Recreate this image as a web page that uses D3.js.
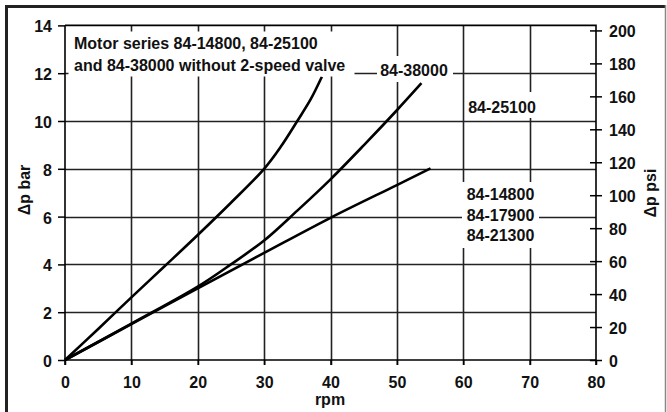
<!DOCTYPE html>
<html>
<head>
<meta charset="utf-8">
<script src="https://cdn.jsdelivr.net/npm/d3@7"></script>
<style>
  html, body { margin: 0; padding: 0; background: #fff; }
  svg { display: block; }
  text { font-family: "Liberation Sans", Arial, Helvetica, sans-serif; font-weight: bold; fill: #111; }
</style>
</head>
<body>
<svg id="chart" width="667" height="412"></svg>
<script>
// ---- data ----
const rpmTicks = [0, 10, 20, 30, 40, 50, 60, 70, 80];
const barTicks = [0, 2, 4, 6, 8, 10, 12, 14];
const psiTicks = [0, 20, 40, 60, 80, 100, 120, 140, 160, 180, 200];
const gridRpm = [10, 20, 30, 40, 50, 60, 70];
const gridBar = [2, 4, 6, 8, 10, 12];

// steepest curve
const steepRpm = [0, 5, 10, 15, 20, 25, 30, 32.5, 35, 37, 38.7];
const steepBar = [0, 1.3, 2.62, 3.92, 5.23, 6.58, 8.0, 8.92, 10.0, 10.9, 11.85];
// middle curve
const midRpm = [0, 10, 20, 25, 30, 35, 40, 45, 50, 53.7];
const midBar = [0, 1.52, 3.07, 4.0, 5.0, 6.25, 7.56, 8.98, 10.45, 11.58];
// lower curve
const lowRpm = [0, 10, 20, 30, 40, 50, 55.07];
const lowBar = [0, 1.5, 3.0, 4.48, 5.95, 7.32, 8.02];

const titleLines = ["Motor series 84-14800, 84-25100", "and 84-38000 without 2-speed valve"];
const label38000 = "84-38000";
const label25100 = "84-25100";
const labelBlock = ["84-14800", "84-17900", "84-21300"];
const BAR_TO_PSI = 14.5038;

// ---- layout ----
const svg = d3.select("#chart");
const x = d3.scaleLinear().domain([0, 80]).range([65, 596]);
const y = d3.scaleLinear().domain([0, 14]).range([360, 25.4]);
const yPsi = d3.scaleLinear().domain([0, 14 * BAR_TO_PSI]).range([360, 25.4]);

// outer frame
svg.append("line").attr("x1", 5).attr("x2", 666).attr("y1", 6.5).attr("y2", 6.5)
  .attr("stroke", "#222").attr("stroke-width", 3);
svg.append("line").attr("x1", 6.5).attr("x2", 6.5).attr("y1", 5).attr("y2", 412)
  .attr("stroke", "#222").attr("stroke-width", 3);
svg.append("line").attr("x1", 665.5).attr("x2", 665.5).attr("y1", 5).attr("y2", 412)
  .attr("stroke", "#888").attr("stroke-width", 1.5);

// grid
const gridG = svg.append("g");
gridG.selectAll("line.v").data(gridRpm).join("line").attr("class", "v")
  .attr("x1", d => Math.round(x(d)) + 0.5).attr("x2", d => Math.round(x(d)) + 0.5)
  .attr("y1", y(14)).attr("y2", y(0) + 5)
  .attr("stroke", "#222").attr("stroke-width", 1.6);
gridG.selectAll("line.h").data(gridBar).join("line").attr("class", "h")
  .attr("x1", x(0)).attr("x2", x(80))
  .attr("y1", d => Math.round(y(d)) + 0.5).attr("y2", d => Math.round(y(d)) + 0.5)
  .attr("stroke", "#222").attr("stroke-width", 1.6);

// curves
const lineGen = d3.line().x(d => x(d[0])).y(d => y(d[1])).curve(d3.curveCatmullRom.alpha(0.5));
const curves = [
  d3.zip(steepRpm, steepBar),
  d3.zip(midRpm, midBar),
  d3.zip(lowRpm, lowBar)
];
const curveG = svg.append("g");
curves.forEach(c => {
  curveG.append("path")
    .attr("d", lineGen(c)).attr("fill", "none").attr("stroke", "#000")
    .attr("stroke-width", 2.6).attr("stroke-linejoin", "round");
});

// white label boxes
const boxes = [
  [68.5, 31.5, 286, 45],
  [377, 56, 76, 26],
  [465, 92, 76, 26],
  [462, 182, 77, 66]
];
boxes.forEach(b => {
  svg.append("rect").attr("x", b[0]).attr("y", b[1]).attr("width", b[2]).attr("height", b[3])
    .attr("fill", "#fff");
});

// labels
titleLines.forEach((t, i) => {
  svg.append("text").attr("x", 74).attr("y", 49.3 + i * 21.4)
    .attr("font-size", 16).text(t);
});
svg.append("text").attr("x", 414).attr("y", 76.3).attr("text-anchor", "middle")
  .attr("font-size", 16).text(label38000);
svg.append("text").attr("x", 502).attr("y", 113).attr("text-anchor", "middle")
  .attr("font-size", 16).text(label25100);
labelBlock.forEach((t, i) => {
  svg.append("text").attr("x", 500.5).attr("y", 200.3 + i * 20.5).attr("text-anchor", "middle")
    .attr("font-size", 16).text(t);
});

// axes frame
svg.append("path")
  .attr("d", `M${x(0)},${y(14)}H${x(80)}V${y(0) + 5}M${x(0)},${y(14)}V${y(0) + 5}M${x(0)},${y(0)}H${x(80)}`)
  .attr("stroke", "#000").attr("stroke-width", 1.6).attr("fill", "none");

// left axis
const leftAxis = d3.axisLeft(y).tickValues(barTicks).tickSize(7).tickPadding(6).tickFormat(d3.format("d"));
const gL = svg.append("g").attr("transform", `translate(${x(0)},0)`).call(leftAxis);
// bottom axis
const bottomAxis = d3.axisBottom(x).tickValues(rpmTicks).tickSize(5).tickPadding(12).tickFormat(d3.format("d"));
const gB = svg.append("g").attr("transform", `translate(0,${y(0)})`).call(bottomAxis);
// right axis (psi)
const rightAxis = d3.axisRight(yPsi).tickValues(psiTicks).tickSize(6).tickPadding(7).tickFormat(d3.format("d"));
const gR = svg.append("g").attr("transform", `translate(${x(80)},0)`).call(rightAxis);
gR.selectAll(".tick line").attr("x1", -6);

[gL, gB, gR].forEach(g => {
  g.select(".domain").remove();
  g.selectAll(".tick line").attr("stroke", "#000").attr("stroke-width", 1.5);
  g.selectAll(".tick text").attr("font-size", 16).attr("font-weight", "bold")
    .attr("font-family", "'Liberation Sans', Arial, sans-serif").attr("fill", "#111");
});
gL.selectAll(".tick text").attr("dy", "0.4em");
gR.selectAll(".tick text").attr("dy", "0.4em");

// axis titles
svg.append("text").attr("x", 330).attr("y", 405).attr("text-anchor", "middle")
  .attr("font-size", 16).text("rpm");
svg.append("text").attr("transform", "translate(30,190) rotate(-90)").attr("text-anchor", "middle")
  .attr("font-size", 16).text("Δp bar");
svg.append("text").attr("transform", "translate(656,193) rotate(-90)").attr("text-anchor", "middle")
  .attr("font-size", 16).text("Δp psi");
</script>
</body>
</html>
